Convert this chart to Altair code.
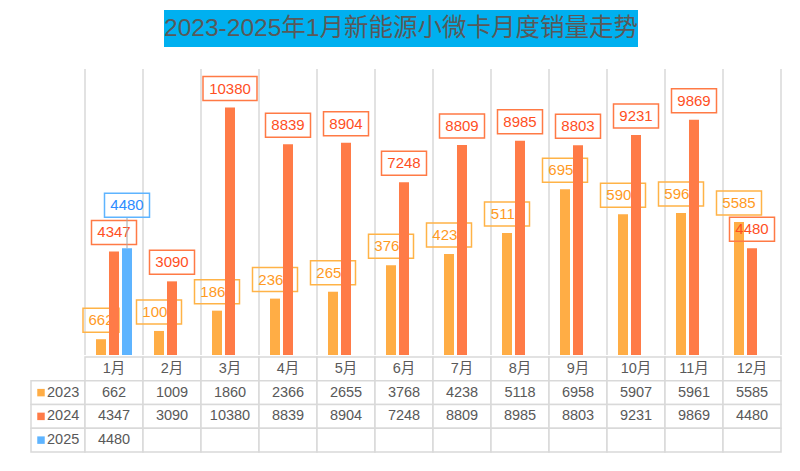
import altair as alt
import pandas as pd

# ---------------- data ----------------
months = ["1月", "2月", "3月", "4月", "5月", "6月", "7月", "8月", "9月", "10月", "11月", "12月"]
years = ["2023", "2024", "2025"]
sales_2023 = [662, 1009, 1860, 2366, 2655, 3768, 4238, 5118, 6958, 5907, 5961, 5585]
sales_2024 = [4347, 3090, 10380, 8839, 8904, 7248, 8809, 8985, 8803, 9231, 9869, 4480]
sales_2025 = [4480]  # only January available
title_text = "2023-2025年1月新能源小微卡月度销量走势"

# ---------------- styles ----------------
FONT = "Liberation Sans, Arial, Noto Sans CJK SC, sans-serif"
bar_colors = {"2023": "#FFAD45", "2024": "#FF7B47", "2025": "#5EB4FF"}
label_text_colors = {"2023": "#FF9A1F", "2024": "#FF4F1F", "2025": "#2D8CFF"}
label_box_colors = {"2023": "#FFB347", "2024": "#FF7A45", "2025": "#5EB4FF"}
GRID = "#D9D9D9"
TXT = "#595959"

# ---------------- tables ----------------
rows = []
for yr, vals in zip(years, [sales_2023, sales_2024, sales_2025]):
    for m, v in zip(months, vals):
        rows.append({"month": m, "year": yr, "value": v})
df = pd.DataFrame(rows)
df["label"] = df["value"].astype(str)
w = 9 * (df["label"].str.len() + 1)
df["box_size"] = w ** 2
df["box_path"] = [f"M-1,-{24 / x:.4f}L1,-{24 / x:.4f}L1,{24 / x:.4f}L-1,{24 / x:.4f}Z" for x in w]

grid_df = pd.DataFrame({"month": months})
last_df = pd.DataFrame({"month": [months[-1]]})

PW, PH = 696, 286
LEG_W = 54

x_scale = alt.Scale(domain=months, paddingInner=0, paddingOuter=0)
xo_scale = alt.Scale(domain=years, paddingInner=0.2308, paddingOuter=0.846)
y_scale = alt.Scale(domain=[0, 12000], nice=False, zero=True)

X = alt.X("month:N", scale=x_scale, axis=None, sort=months)
XO = alt.XOffset("year:N", scale=xo_scale, sort=years)
Y = alt.Y("value:Q", scale=y_scale, axis=None)

grid1 = alt.Chart(grid_df).mark_rule(color=GRID, strokeWidth=1.5).encode(
    x=alt.X("month:N", scale=x_scale, axis=None, sort=months, bandPosition=0)
)
grid2 = alt.Chart(last_df).mark_rule(color=GRID, strokeWidth=1.5).encode(
    x=alt.X("month:N", scale=x_scale, axis=None, sort=months, bandPosition=1)
)


def bars_for(yr):
    return alt.Chart(df).transform_filter(alt.datum.year == yr).mark_bar(
        color=bar_colors[yr]
    ).encode(x=X, xOffset=XO, y=Y)


def labels_for(yr, off):
    base = alt.Chart(df).transform_filter(alt.datum.year == yr)
    box = base.mark_point(
        filled=False, opacity=1, strokeWidth=1.5, color=label_box_colors[yr], yOffset=off
    ).encode(
        x=X, xOffset=XO, y=Y,
        shape=alt.Shape("box_path:N", scale=None),
        size=alt.Size("box_size:Q", scale=None),
    )
    txt = base.mark_text(
        font=FONT, fontSize=15, color=label_text_colors[yr], baseline="middle", yOffset=off
    ).encode(x=X, xOffset=XO, y=Y, text="label:N")
    return [box, txt]


leader = alt.Chart(df).transform_filter(alt.datum.year == "2025").mark_rule(
    color="#A6A6A6", strokeWidth=1, y2Offset=-31
).encode(x=X, xOffset=XO, y=Y, y2=alt.Y2("value:Q"))

bar_layers = [grid1, grid2, bars_for("2023")] + labels_for("2023", -19) + [bars_for("2024")] \
    + labels_for("2024", -19) + [bars_for("2025"), leader] + labels_for("2025", -43)

bars = alt.layer(*bar_layers).properties(width=PW, height=PH)

spacer = alt.Chart(pd.DataFrame({"a": [""]})).mark_text(opacity=0).encode(
    x=alt.value(5), y=alt.value(5), text="a:N"
).properties(width=LEG_W, height=PH)

# ---------------- data table ----------------
row_dom = ["header"] + years
cells = []
for m in months:
    cells.append({"month": m, "row": "header", "text": m})
for yr, vals in zip(years, [sales_2023, sales_2024, sales_2025]):
    for i, m in enumerate(months):
        cells.append({"month": m, "row": yr, "text": str(vals[i]) if i < len(vals) else ""})
cells_df = pd.DataFrame(cells)
row_scale = alt.Scale(domain=row_dom, paddingInner=0, paddingOuter=0)
TH = 95

table_rect = alt.Chart(cells_df).mark_rect(fill="white", stroke=GRID, strokeWidth=1.5).encode(
    x=X, y=alt.Y("row:N", scale=row_scale, axis=None, sort=row_dom)
)
table_text = alt.Chart(cells_df).mark_text(font=FONT, fontSize=14.5, color=TXT).encode(
    x=X, y=alt.Y("row:N", scale=row_scale, axis=None, sort=row_dom), text="text:N"
)
table = alt.layer(table_rect, table_text).properties(width=PW, height=TH)

leg_df = pd.DataFrame({"row": years})
leg_rect = alt.Chart(leg_df).mark_rect(fill="white", stroke=GRID, strokeWidth=1.5).encode(
    x=alt.value(0), x2=alt.value(LEG_W), y=alt.Y("row:N", scale=row_scale, axis=None, sort=row_dom)
)
leg_sq = alt.Chart(leg_df).mark_square(size=56, opacity=1).encode(
    x=alt.value(10), y=alt.Y("row:N", scale=row_scale, axis=None, sort=row_dom),
    color=alt.Color("row:N", scale=alt.Scale(domain=years, range=list(bar_colors.values())), legend=None),
)
leg_txt = alt.Chart(leg_df).mark_text(font=FONT, fontSize=14.5, color=TXT, align="left").encode(
    x=alt.value(16), y=alt.Y("row:N", scale=row_scale, axis=None, sort=row_dom), text="row:N"
)
legend_panel = alt.layer(leg_rect, leg_sq, leg_txt).properties(width=LEG_W, height=TH)

# ---------------- title ----------------
tdf = pd.DataFrame({"t": [title_text]})
t_rect = alt.Chart(tdf).mark_rect(color="#00B0F0").encode(
    x=alt.value(133), x2=alt.value(607), y=alt.value(2), y2=alt.value(39)
)
t_text = alt.Chart(tdf).mark_text(font=FONT, fontSize=24.5, color=TXT, baseline="middle").encode(
    x=alt.value(370), y=alt.value(21), text="t:N"
)
title_panel = alt.layer(t_rect, t_text).properties(width=LEG_W + PW, height=60)

chart = alt.vconcat(
    title_panel,
    alt.hconcat(spacer, bars, spacing=0, bounds="flush"),
    alt.hconcat(legend_panel, table, spacing=0, bounds="flush"),
    spacing=0,
).properties(
    padding={"left": 22, "top": 0, "right": 10, "bottom": 12},
    background="white",
).configure_view(strokeWidth=0)

chart.save("out.html", embed_options={"renderer": "svg", "actions": False})
